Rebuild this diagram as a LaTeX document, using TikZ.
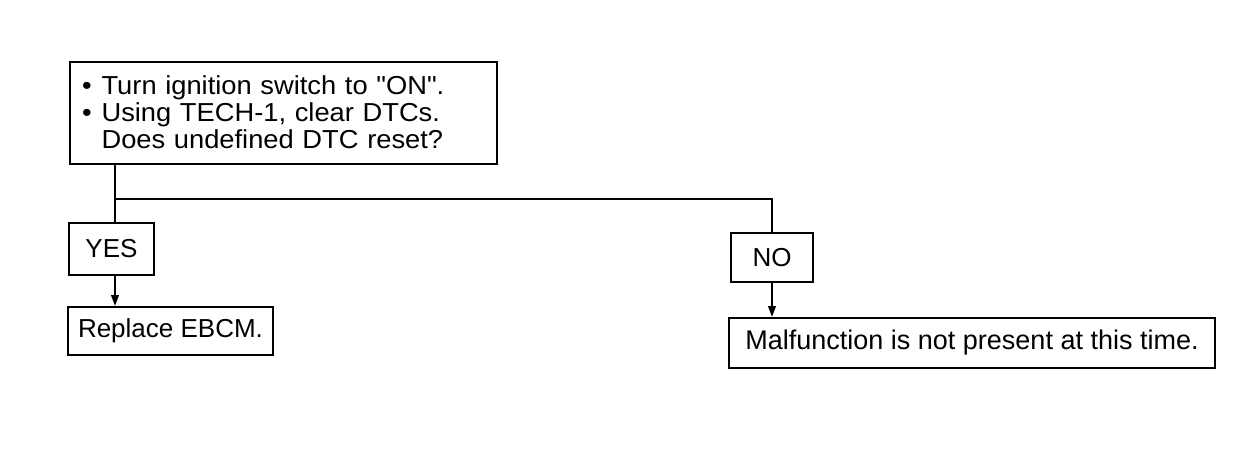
\documentclass[tikz,border=0pt]{standalone}
\usepackage{fontspec}
\setmainfont{Liberation Sans}
\newfontfamily\widefont[FakeStretch=1.05]{Liberation Sans}
\usetikzlibrary{arrows.meta}
\begin{document}
\begin{tikzpicture}[x=0.5pt,y=-0.5pt,
  box/.style={draw,line width=1pt,inner sep=0pt,font=\fontsize{13}{12.5}\selectfont},
  link/.style={line width=1pt},
  arr/.style={line width=1pt,-{Triangle[length=5.5pt,width=3.8pt]}}]
\useasboundingbox (0,0) rectangle (1248,452);
\node[box,minimum width=213.5pt,minimum height=51pt,text width=201.5pt,align=left,inner xsep=6pt,font=\widefont\fontsize{13}{13}\selectfont] (top) at (283.5,113)
 {\raisebox{-1.5pt}[\height][\depth]{\begin{tabular}{@{}l@{\hspace{5pt}}l@{}}
 \textbullet & Turn ignition switch to \char34 ON\char34.\\
 \textbullet & Using TECH-1, clear DTCs.\\
  & Does undefined DTC reset?
 \end{tabular}}};
\node[box,minimum width=42.5pt,minimum height=26pt] (yes) at (111.5,249) {YES};
\node[box,minimum width=102.5pt,minimum height=24pt] (rep) at (170.5,331) {Replace EBCM.};
\node[box,minimum width=41pt,minimum height=24.5pt] (no) at (772,257.5) {NO};
\node[box,minimum width=243pt,minimum height=25pt,font=\fontsize{13.5}{13}\selectfont] (mal) at (972,343) {Malfunction is not present at this time.};
\coordinate (br) at (115,199);
\draw[link] (top.south -| br) -- (yes.north -| br);
\draw[link] (br) -| (no.north);
\draw[arr] (yes.south -| br) -- (rep.north -| br);
\draw[arr] (no.south) -- (mal.north -| no.south);
\end{tikzpicture}
\end{document}
